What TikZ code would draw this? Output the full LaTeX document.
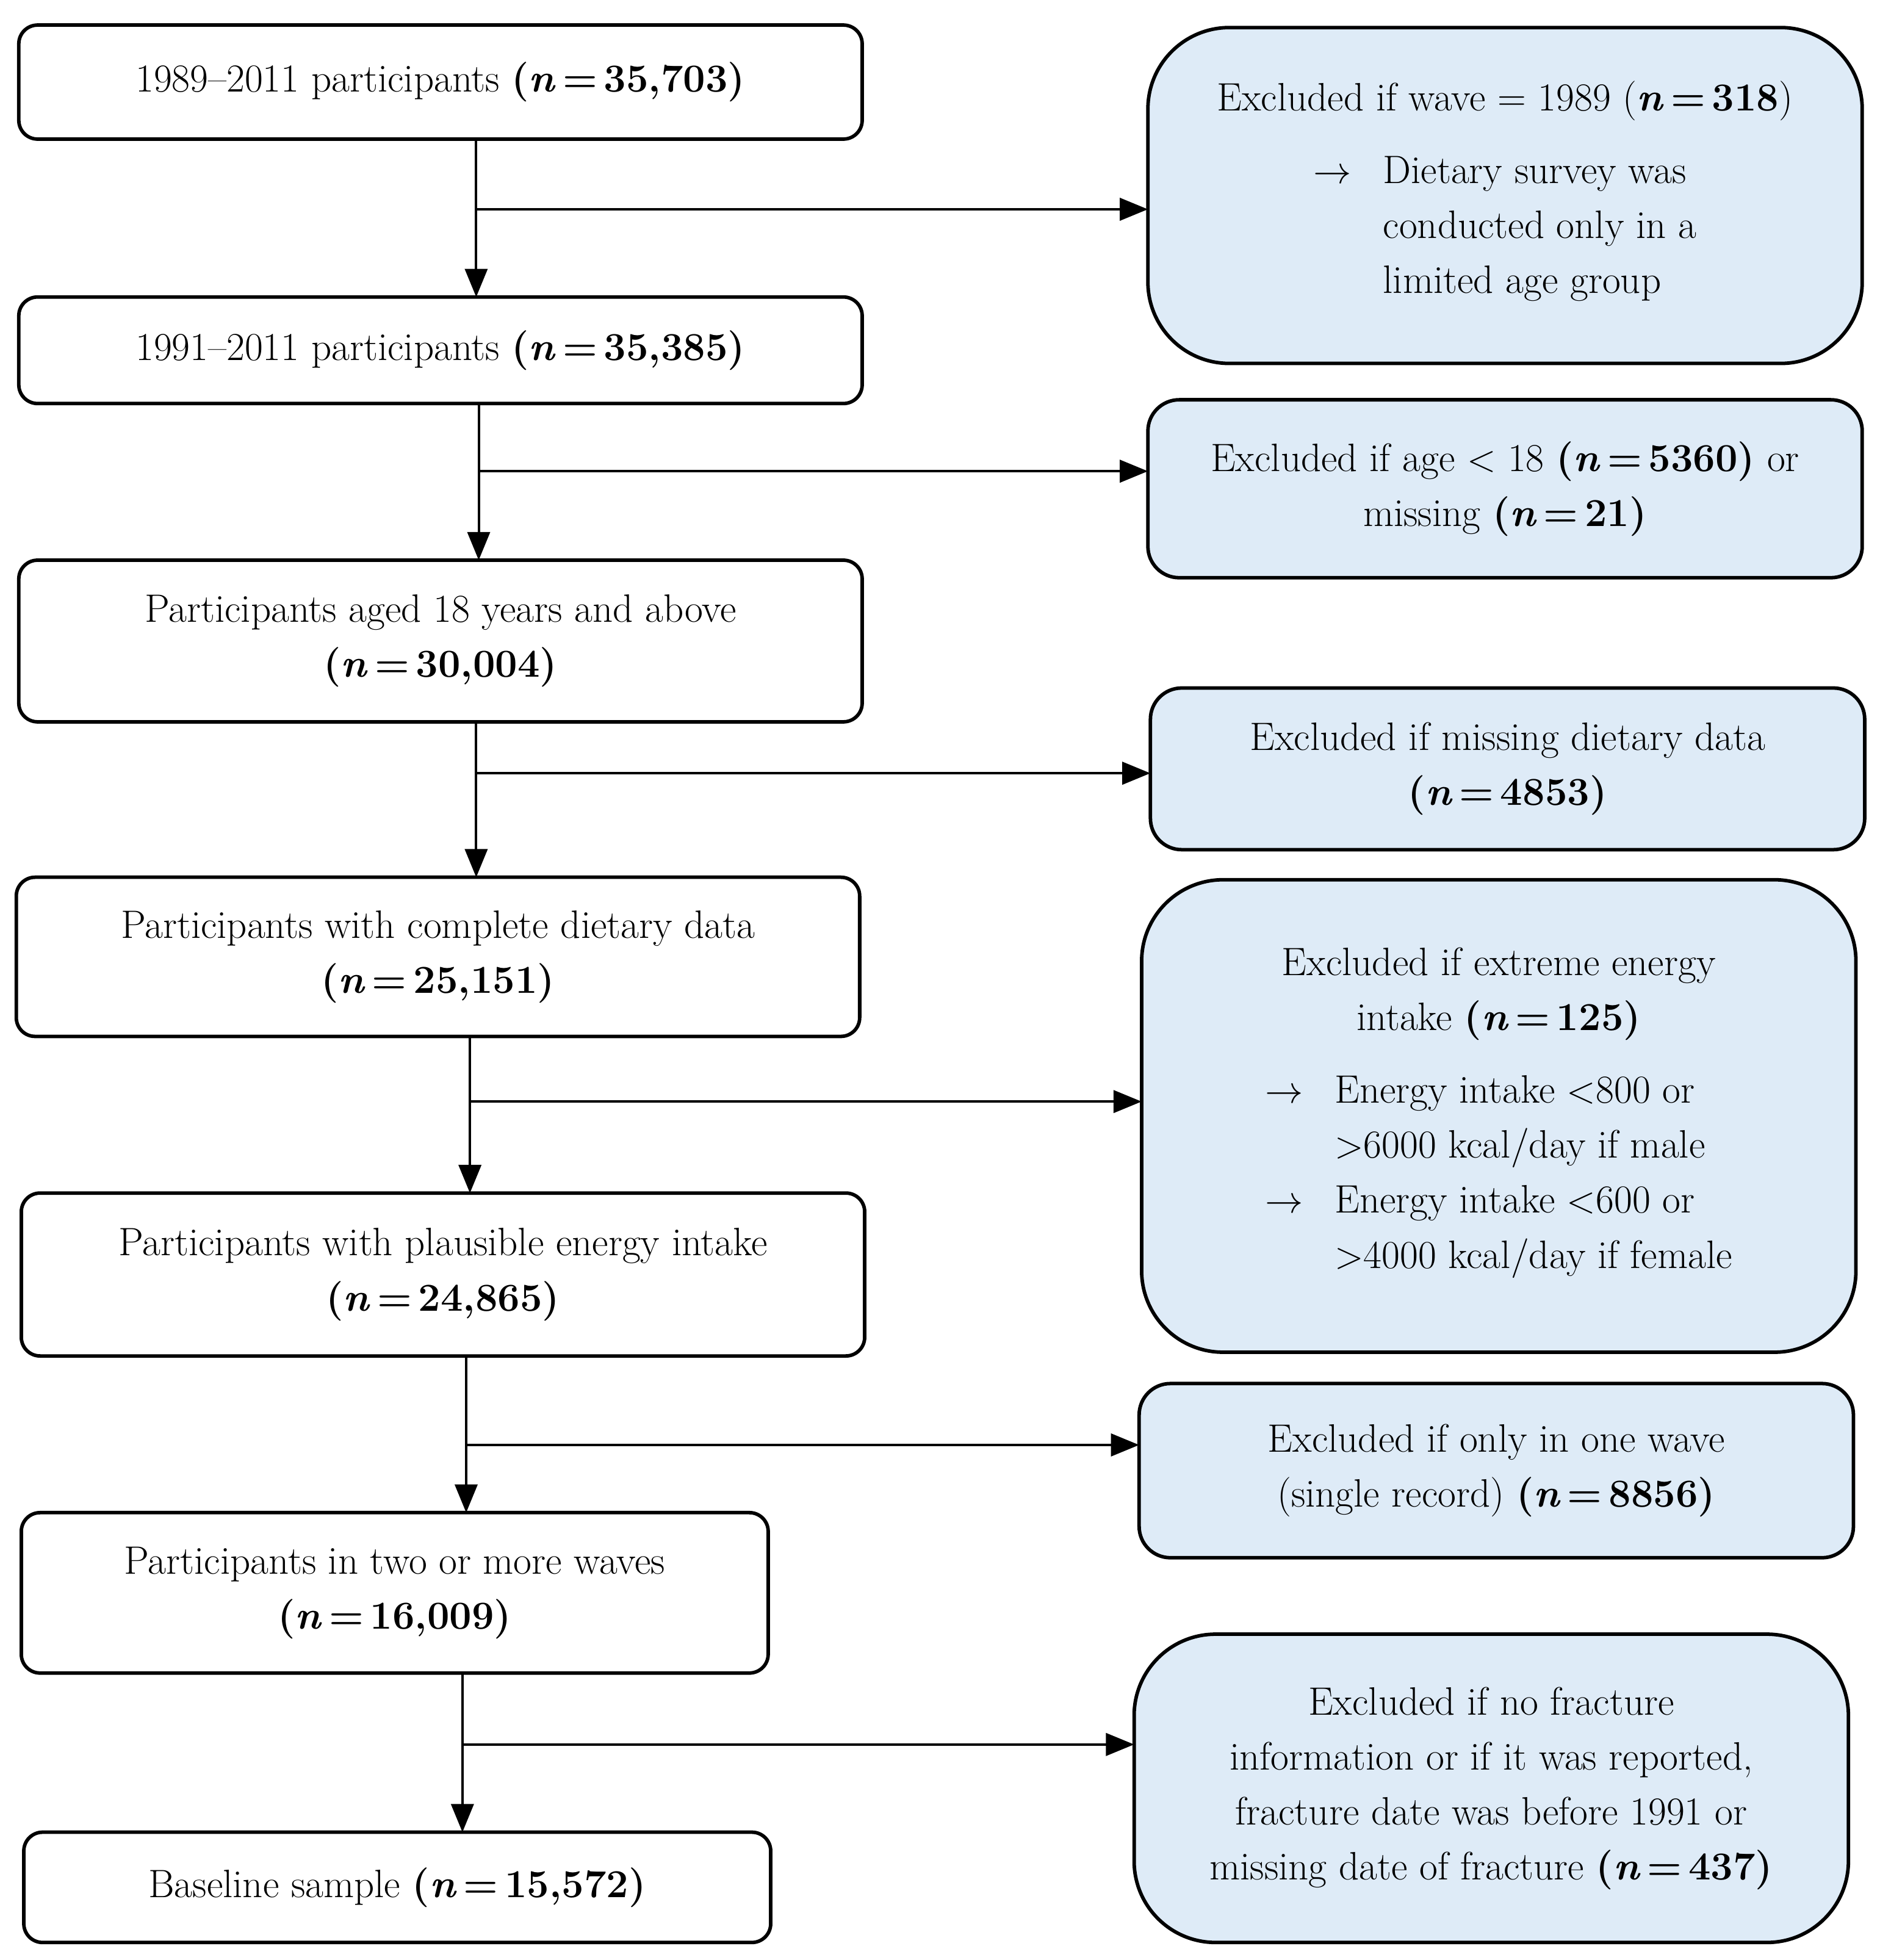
\documentclass[tikz,border=0pt]{standalone}
\usepackage{tikz}
\usetikzlibrary{arrows.meta}
\definecolor{exblue}{RGB}{222,235,247}
\newcommand{\nval}[1]{\textbf{(\textit{n}\,=\,#1)}}
\newcommand{\nbare}[1]{\textbf{\textit{n}\,=\,#1}}

\begin{document}
\begin{tikzpicture}[x=0.02cm,y=-0.02cm,
  every node/.style={font=\fontsize{18}{25}\selectfont, inner sep=0pt, outer sep=0pt},
  stage/.style={draw, line width=1.6pt, rounded corners=0.3cm, align=center},
  excl/.style={draw, line width=1.6pt, fill=exblue, rounded corners=0.5cm, align=center},
  bigexcl/.style={excl, rounded corners=1.3cm},
  arr/.style={line width=1.1pt, -{Triangle[length=0.45cm,width=0.36cm]}}]
\useasboundingbox (0,0) rectangle (1500,1564);

% left column
\node[stage, minimum width=673*0.02cm, minimum height=91*0.02cm] (s1) at (351.5,65.5) {1989--2011 participants \nval{35,703}};
\node[stage, minimum width=673*0.02cm, minimum height=85*0.02cm] (s2) at (351.5,279.5) {1991--2011 participants \nval{35,385}};
\node[stage, minimum width=673*0.02cm, minimum height=129*0.02cm] (s3) at (351.5,511.5) {Participants aged 18 years and above\\ \nval{30,004}};
\node[stage, minimum width=673*0.02cm, minimum height=127*0.02cm] (s4) at (349.5,763.5) {Participants with complete dietary data\\ \nval{25,151}};
\node[stage, minimum width=673*0.02cm, minimum height=130*0.02cm] (s5) at (353.5,1017) {Participants with plausible energy intake\\ \nval{24,865}};
\node[stage, minimum width=596*0.02cm, minimum height=128*0.02cm] (s6) at (315,1271) {Participants in two or more waves\\ \nval{16,009}};
\node[stage, minimum width=596*0.02cm, minimum height=88*0.02cm] (s7) at (317,1506) {Baseline sample \nval{15,572}};

% right column
\node[bigexcl, minimum width=570*0.02cm, minimum height=268*0.02cm] (e1) at (1201,156) {Excluded if wave = 1989 (\nbare{318})\\[0.35cm]
  \begin{tabular}{@{}l@{\hspace{0.5cm}}l@{}}$\rightarrow$ & Dietary survey was\\ & conducted only in a\\ & limited age group\end{tabular}};
\node[excl, minimum width=570*0.02cm, minimum height=142*0.02cm] (e2) at (1201,390) {Excluded if age $<$ 18 \nval{5360} or\\ missing \nval{21}};
\node[excl, minimum width=570*0.02cm, minimum height=129*0.02cm] (e3) at (1203,613.5) {Excluded if missing dietary data\\ \nval{4853}};
\node[bigexcl, minimum width=570*0.02cm, minimum height=377*0.02cm] (e4) at (1196,890.5) {Excluded if extreme energy\\ intake \nval{125}\\[0.35cm]
  \begin{tabular}{@{}l@{\hspace{0.5cm}}l@{}}$\rightarrow$ & Energy intake $<$800 or\\ & $>$6000 kcal/day if male\\ $\rightarrow$ & Energy intake $<$600 or\\ & $>$4000 kcal/day if female\end{tabular}};
\node[excl, minimum width=570*0.02cm, minimum height=139*0.02cm] (e5) at (1194,1173.5) {Excluded if only in one wave\\ (single record) \nval{8856}};
\node[bigexcl, minimum width=570*0.02cm, minimum height=246*0.02cm] (e6) at (1190,1427) {Excluded if no fracture\\ information or if it was reported,\\ fracture date was before 1991 or\\ missing date of fracture \nval{437}};

% junctions
\coordinate (j1) at (380,167);
\coordinate (j2) at (382,376);
\coordinate (j3) at (380,617);
\coordinate (j4) at (375,879);
\coordinate (j5) at (372,1153);
\coordinate (j6) at (369,1392);

\draw[arr] (j1 |- s1.south) -- (j1 |- s2.north);
\draw[arr] (j1) -- (j1 -| e1.west);
\draw[arr] (j2 |- s2.south) -- (j2 |- s3.north);
\draw[arr] (j2) -- (j2 -| e2.west);
\draw[arr] (j3 |- s3.south) -- (j3 |- s4.north);
\draw[arr] (j3) -- (j3 -| e3.west);
\draw[arr] (j4 |- s4.south) -- (j4 |- s5.north);
\draw[arr] (j4) -- (j4 -| e4.west);
\draw[arr] (j5 |- s5.south) -- (j5 |- s6.north);
\draw[arr] (j5) -- (j5 -| e5.west);
\draw[arr] (j6 |- s6.south) -- (j6 |- s7.north);
\draw[arr] (j6) -- (j6 -| e6.west);
\end{tikzpicture}
\end{document}
